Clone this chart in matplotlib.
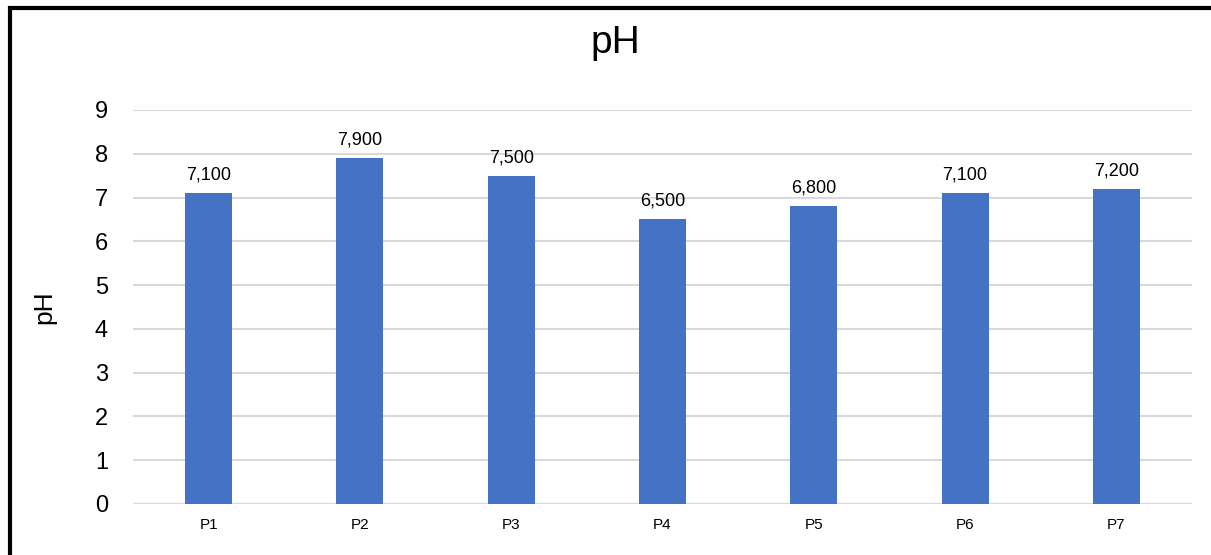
import numpy as np
from matplotlib import pyplot as plt
from matplotlib.patches import Rectangle

plt.rcParams['font.family'] = ['Liberation Sans', 'DejaVu Sans']

points = ["P1", "P2", "P3", "P4", "P5", "P6", "P7"]
ph = [7.1, 7.9, 7.5, 6.5, 6.8, 7.1, 7.2]
labels = ["7,100", "7,900", "7,500", "6,500", "6,800", "7,100", "7,200"]

fig = plt.figure(figsize=(12.11, 5.55), dpi=100)
ax = fig.add_axes([133 / 1211, 1 - 504 / 555, 1059 / 1211, 394 / 555])

x = np.arange(len(points))
ax.bar(x, ph, width=0.31, color="#4472C4", zorder=2)
for xi, v, lab in zip(x, ph, labels):
    ax.text(xi, v + 0.22, lab, ha="center", va="bottom", fontsize=13)

ax.set_xlim(-0.5, len(points) - 0.5)
ax.set_ylim(0, 9)
ax.set_yticks(range(10))
ax.set_xticks(x)
ax.set_xticklabels(points, fontsize=11)
ax.tick_params(axis="y", labelsize=17, length=0, pad=18)
ax.tick_params(axis="x", length=0, pad=10)
ax.yaxis.grid(True, color="#d9d9d9", linewidth=1.5, zorder=0)
for s in ax.spines.values():
    s.set_visible(False)
ax.axhline(0, color="#d9d9d9", linewidth=1.5, zorder=1)

ax.set_ylabel("pH", fontsize=19, labelpad=28)
fig.text(615 / 1211, 1 - 43 / 555, "pH", ha="center", va="center", fontsize=28)

# chart border (only left and top visible in the crop)
fig.patches.append(Rectangle((10 / 1211, -0.1), 1.2, 1 - 8 / 555 + 0.1,
                             transform=fig.transFigure, fill=False,
                             edgecolor="black", linewidth=3))

fig.savefig("out.png", dpi=100)
